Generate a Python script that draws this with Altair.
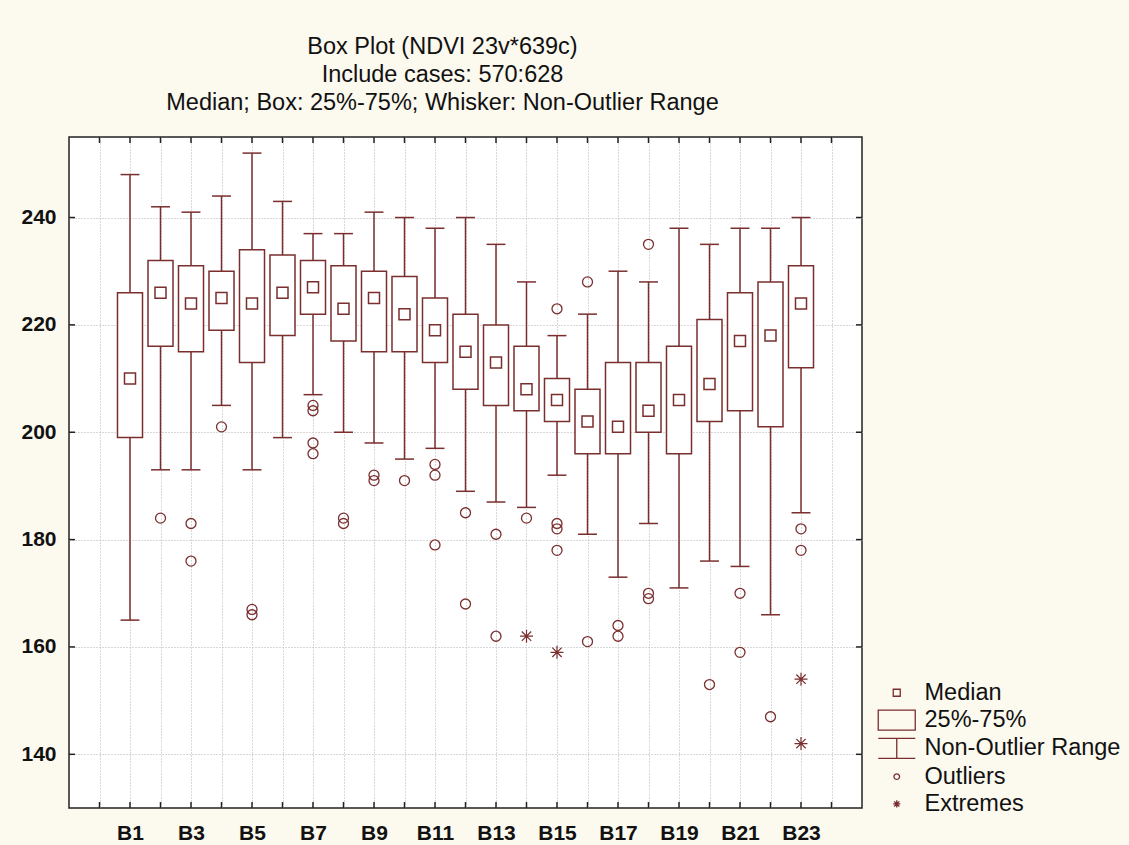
import altair as alt
import pandas as pd

# ---- data ----
cats = [f"B{i}" for i in range(1, 24)]
hi  = [248, 242, 241, 244, 252, 243, 237, 237, 241, 240, 238, 240, 235, 228, 218, 222, 230, 228, 238, 235, 238, 238, 240]
q3  = [226, 232, 231, 230, 234, 233, 232, 231, 230, 229, 225, 222, 220, 216, 210, 208, 213, 213, 216, 221, 226, 228, 231]
med = [210, 226, 224, 225, 224, 226, 227, 223, 225, 222, 219, 215, 213, 208, 206, 202, 201, 204, 206, 209, 217, 218, 224]
q1  = [199, 216, 215, 219, 213, 218, 222, 217, 215, 215, 213, 208, 205, 204, 202, 196, 196, 200, 196, 202, 204, 201, 212]
lo  = [165, 193, 193, 205, 193, 199, 207, 200, 198, 195, 197, 189, 187, 186, 192, 181, 173, 183, 171, 176, 175, 166, 185]

out_cat = ["B2", "B3", "B3", "B4", "B5", "B5", "B7", "B7", "B7", "B7", "B8", "B8",
           "B9", "B9", "B10", "B11", "B11", "B11", "B12", "B12", "B13", "B13", "B14",
           "B15", "B15", "B15", "B15", "B16", "B16", "B17", "B17", "B18", "B18", "B18",
           "B20", "B21", "B21", "B22", "B23", "B23"]
out_val = [184, 183, 176, 201, 167, 166, 205, 204, 198, 196, 184, 183,
           192, 191, 191, 194, 192, 179, 185, 168, 181, 162, 184,
           223, 183, 182, 178, 228, 161, 164, 162, 235, 170, 169,
           153, 170, 159, 147, 182, 178]
ext_cat = ["B14", "B15", "B23", "B23"]
ext_val = [162, 159, 154, 142]

y_ticks = [140, 160, 180, 200, 220, 240]
x_ticks = list(range(0, 25))

legend_kinds = ["Median", "25%-75%", "Non-Outlier Range", "Outliers", "Extremes"]
legend_paths = [
    "M-0.35,-0.35H0.35V0.35H-0.35Z",
    "M-1.85,-1.0H1.85V1.0H-1.85Z",
    "M-1.85,-1.0H1.85M0,-1.0V1.0M-1.85,1.0H1.85",
    "M0.28,0A0.28,0.28,0,1,1,-0.28,0A0.28,0.28,0,1,1,0.28,0Z",
    "M-0.36,0H0.36M0,-0.36V0.36M-0.26,-0.26L0.26,0.26M-0.26,0.26L0.26,-0.26",
]

# ---- tables ----
idx = {c: i + 1 for i, c in enumerate(cats)}
boxes = pd.DataFrame({"cat": cats, "x": [idx[c] for c in cats], "hi": hi, "q3": q3,
                      "med": med, "q1": q1, "lo": lo, "kind": "Median"})
outl = pd.DataFrame({"x": [idx[c] for c in out_cat], "v": out_val, "kind": "Outliers"})
extr = pd.DataFrame({"x": [idx[c] for c in ext_cat], "v": ext_val, "kind": "Extremes"})
yt = pd.DataFrame({"v": y_ticks})
xt = pd.DataFrame({"x": x_ticks})

W, H = 793, 671
MAROON = "#7a2e2e"
FONT = "Liberation Sans"

xscale = alt.Scale(domain=[-1, 25], nice=False, zero=False)
yscale = alt.Scale(domain=[130, 255], nice=False, zero=False)
xaxis = alt.Axis(values=x_ticks, grid=True, gridDash=[1, 2], gridColor="#b0b0b0",
                 ticks=False, domain=False, title=None,
                 labelExpr="(datum.value % 2 == 1 && datum.value < 24) ? 'B' + datum.value : ''",
                 labelFont=FONT, labelFontSize=21, labelFontWeight="bold", labelColor="#111",
                 labelPadding=14)
yaxis = alt.Axis(values=y_ticks, grid=True, gridDash=[1, 2], gridColor="#b0b0b0",
                 ticks=False, domain=False, title=None,
                 labelFont=FONT, labelFontSize=21, labelFontWeight="bold", labelColor="#111",
                 labelPadding=13)


def X(f):
    return alt.X(f, type="quantitative", scale=xscale, axis=xaxis)


def Y(f):
    return alt.Y(f, type="quantitative", scale=yscale, axis=yaxis)


shape_enc = alt.Shape("kind:N", scale=alt.Scale(domain=legend_kinds, range=legend_paths),
                      legend=alt.Legend(orient="none", legendX=816, legendY=544, title=None,
                                        labelFont=FONT, labelFontSize=23.5, labelColor="#111",
                                        labelLimit=400,
                                        symbolSize=400, symbolStrokeColor=MAROON,
                                        symbolFillColor="transparent", symbolStrokeWidth=1.3,
                                        labelOffset=16, rowPadding=2.3, padding=0))

base = alt.Chart(boxes)

whisk = base.mark_rule(color=MAROON, strokeWidth=1.5).encode(x=X("x"), y=Y("lo"), y2="hi")
caps_hi = base.transform_calculate(xl="datum.x - 0.31", xr="datum.x + 0.31").mark_rule(
    color=MAROON, strokeWidth=1.5).encode(x=X("xl"), x2="xr", y=Y("hi"))
caps_lo = base.transform_calculate(xl="datum.x - 0.31", xr="datum.x + 0.31").mark_rule(
    color=MAROON, strokeWidth=1.5).encode(x=X("xl"), x2="xr", y=Y("lo"))
box = base.transform_calculate(xl="datum.x - 0.41", xr="datum.x + 0.41").mark_rect(
    fill="white", stroke=MAROON, strokeWidth=1.5).encode(x=X("xl"), x2="xr", y=Y("q1"), y2="q3")
meds = base.mark_point(filled=False, color=MAROON, strokeWidth=1.5, opacity=1, size=988).encode(
    x=X("x"), y=Y("med"), shape=shape_enc)
outs = alt.Chart(outl).mark_point(filled=False, color=MAROON, strokeWidth=1.3, opacity=1, size=1276).encode(
    x=X("x"), y=Y("v"), shape=shape_enc)
exts = alt.Chart(extr).mark_point(filled=False, color=MAROON, strokeWidth=1.2, opacity=1, size=1300).encode(
    x=X("x"), y=Y("v"), shape=shape_enc)

tk = dict(color="#222", strokeWidth=1.5)
ytl = alt.Chart(yt).mark_rule(**tk).encode(y=Y("v"), x=alt.value(0), x2=alt.value(6))
ytr = alt.Chart(yt).mark_rule(**tk).encode(y=Y("v"), x=alt.value(W - 6), x2=alt.value(W))
xtb = alt.Chart(xt).mark_rule(**tk).encode(x=X("x"), y=alt.value(H - 6), y2=alt.value(H))
xtt = alt.Chart(xt).mark_rule(**tk).encode(x=X("x"), y=alt.value(0), y2=alt.value(6))

chart = alt.layer(ytl, ytr, xtb, xtt, whisk, caps_hi, caps_lo, box, meds, outs, exts).properties(
    width=W, height=H,
    title=alt.TitleParams(
        text=["Box Plot (NDVI 23v*639c)", "Include cases: 570:628",
              "Median; Box: 25%-75%; Whisker: Non-Outlier Range"],
        font=FONT, fontSize=23.5, fontWeight="normal", color="#111", lineHeight=28,
        anchor="middle", frame="group", dx=-23, offset=22),
    autosize=alt.AutoSizeParams(type="none"),
    padding={"left": 69, "top": 137, "right": 267, "bottom": 37},
).configure(background="#fcf9ef").configure_view(fill="white", stroke="#222", strokeWidth=1.5)

chart.save("out.html", embed_options={"renderer": "svg", "actions": False})
